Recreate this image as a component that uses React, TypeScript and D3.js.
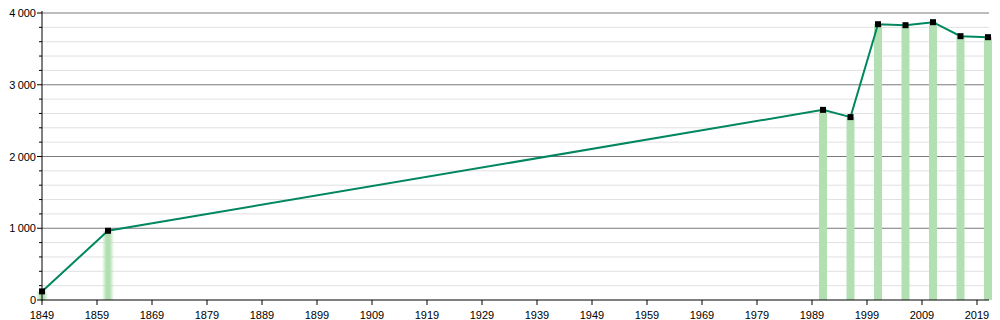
import React from "react";
import * as d3 from "d3";

const years = [1849, 1861, 1991, 1996, 2001, 2006, 2011, 2016, 2021];
const population = [120, 965, 2650, 2549, 3844, 3830, 3872, 3677, 3663];
const xTicks = [1849, 1859, 1869, 1879, 1889, 1899, 1909, 1919, 1929, 1939, 1949, 1959, 1969, 1979, 1989, 1999, 2009, 2019];
const yMajor = [0, 1000, 2000, 3000, 4000];
const fadedYears = [1849, 1861];

const W = 1000;
const H = 320;
const left = 42;
const right = 989;
const top = 13;
const bottom = 300;

export default function App() {
  const x = d3.scaleLinear().domain([1849, 2021]).range([left, 988]);
  const y = d3.scaleLinear().domain([0, 4000]).range([bottom, top]);
  const minor = d3.range(200, 4000, 200).filter((v) => v % 1000 !== 0);
  const line = d3
    .line<number>()
    .x((_, i) => x(years[i]))
    .y((d) => y(d));
  const fmt = (v: number) => (v >= 1000 ? d3.format(",")(v).replace(",", "\u2009") : String(v));
  const font = "'Liberation Sans', Arial, sans-serif";
  const barW = 8;
  return (
    <svg width={W} height={H} style={{ position: "absolute", left: 0, top: 0 }}>
      <defs>
        <linearGradient id="fade" x1="0" x2="1" y1="0" y2="0">
          <stop offset="0" stopColor="#b3e0b3" stopOpacity="0" />
          <stop offset="0.35" stopColor="#b3e0b3" stopOpacity="1" />
          <stop offset="0.65" stopColor="#b3e0b3" stopOpacity="1" />
          <stop offset="1" stopColor="#b3e0b3" stopOpacity="0" />
        </linearGradient>
      </defs>
      <rect x={0} y={0} width={W} height={H} fill="#fff" />
      {minor.map((v) => (
        <line key={"m" + v} x1={left} x2={right} y1={y(v)} y2={y(v)} stroke="#e0e0e0" strokeWidth={1} />
      ))}
      {yMajor.slice(1).map((v) => (
        <line key={"M" + v} x1={left} x2={right} y1={y(v)} y2={y(v)} stroke="#7a7a7a" strokeWidth={1} />
      ))}
      {years.map((yr, i) => (
        <rect
          key={"b" + yr}
          x={x(yr) - (fadedYears.includes(yr) ? 6 : barW / 2)}
          width={fadedYears.includes(yr) ? 12 : barW}
          y={y(population[i])}
          height={bottom - y(population[i])}
          fill={fadedYears.includes(yr) ? "url(#fade)" : "#b3e0b3"}
        />
      ))}
      <path d={line(population) || ""} fill="none" stroke="#00875f" strokeWidth={2} />
      {years.map((yr, i) => (
        <rect key={"p" + yr} x={x(yr) - 3} y={y(population[i]) - 3} width={6} height={6} fill="#000" />
      ))}
      <line x1={left} x2={left} y1={top - 2} y2={bottom + 1} stroke="#000" strokeWidth={1} />
      <line x1={left} x2={right} y1={bottom} y2={bottom} stroke="#000" strokeWidth={1} />
      {d3.range(0, 4001, 200).map((v) => (
        <line
          key={"yt" + v}
          x1={left - (v % 1000 === 0 ? 5 : 3)}
          x2={left}
          y1={y(v)}
          y2={y(v)}
          stroke="#000"
        />
      ))}
      {yMajor.map((v) => (
        <text key={"yl" + v} x={36} y={y(v) + 4} textAnchor="end" fontSize={11} fontFamily={font} fill="#000">
          {fmt(v)}
        </text>
      ))}
      {xTicks.map((t) => (
        <g key={"xt" + t}>
          <line x1={x(t)} x2={x(t)} y1={bottom} y2={bottom + 5} stroke="#000" />
          <text x={x(t)} y={bottom + 19} textAnchor="middle" fontSize={11} fontFamily={font} fill="#000">
            {t}
          </text>
        </g>
      ))}
    </svg>
  );
}
